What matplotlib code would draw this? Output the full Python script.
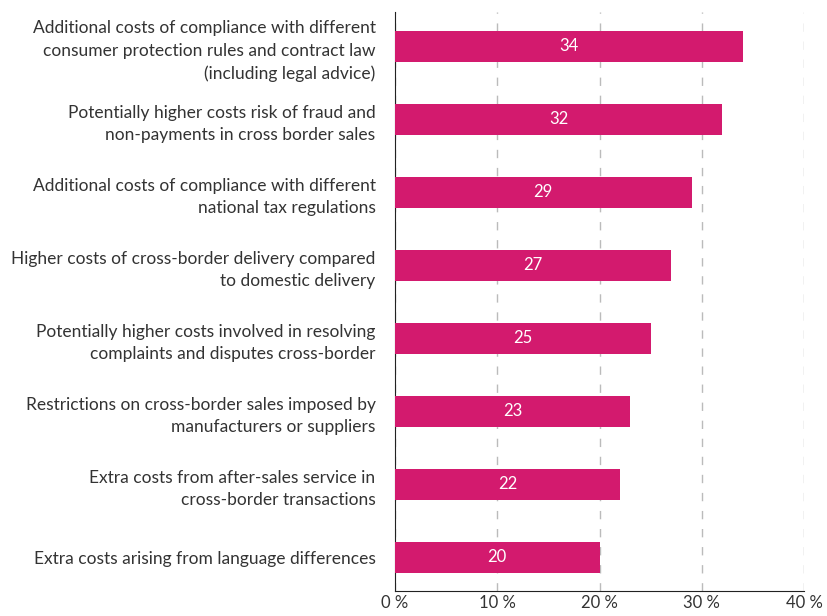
import matplotlib.pyplot as plt
import numpy as np

categories = [
    "Additional costs of compliance with different\nconsumer protection rules and contract law\n(including legal advice)",
    "Potentially higher costs risk of fraud and\nnon-payments in cross border sales",
    "Additional costs of compliance with different\nnational tax regulations",
    "Higher costs of cross-border delivery compared\nto domestic delivery",
    "Potentially higher costs involved in resolving\ncomplaints and disputes cross-border",
    "Restrictions on cross-border sales imposed by\nmanufacturers or suppliers",
    "Extra costs from after-sales service in\ncross-border transactions",
    "Extra costs arising from language differences",
]
values = [34, 32, 29, 27, 25, 23, 22, 20]
xticks = [0, 10, 20, 30, 40]

plt.rcParams['font.family'] = ['Lato', 'DejaVu Sans']
text_col = '#333333'

fig = plt.figure(figsize=(8.27, 6.16), dpi=100)
ax = fig.add_axes([395 / 827, 25 / 616, 409 / 827, 579 / 616])

y_pos = np.arange(len(categories))
bars = ax.barh(y_pos, values, height=0.42, color='#D31A6E', zorder=3)
for b, v in zip(bars, values):
    ax.text(v / 2, b.get_y() + b.get_height() / 2, str(v), ha='center', va='center',
            color='white', fontsize=12, zorder=4)

ax.set_ylim(len(categories) - 1 + 0.46, -0.47)
ax.set_xlim(0, 40)
ax.set_yticks(y_pos)
ax.set_yticklabels(categories, fontsize=12.5, color=text_col, linespacing=1.5)
ax.set_xticks(xticks)
ax.set_xticklabels([f"{t} %" for t in xticks], fontsize=12, color=text_col)
ax.tick_params(axis='both', length=0)
ax.tick_params(axis='y', pad=14)
ax.tick_params(axis='x', pad=3)

ax.grid(axis='x', color='#bbbbbb', linestyle=(0, (6, 7)), linewidth=1, zorder=0)
for s in ['top', 'right']:
    ax.spines[s].set_visible(False)
ax.spines['left'].set_color('#222222')
ax.spines['bottom'].set_color('#222222')

fig.savefig('out.png', dpi=100)
